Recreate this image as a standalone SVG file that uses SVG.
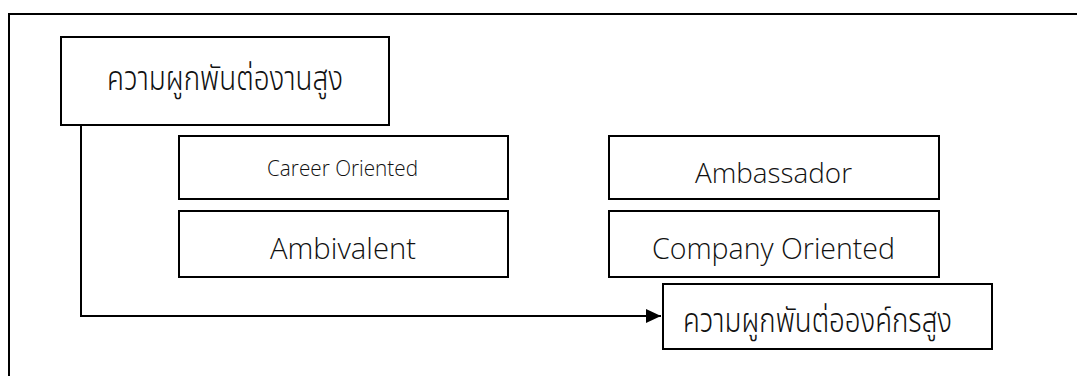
<svg xmlns="http://www.w3.org/2000/svg" width="1077" height="376" viewBox="0 0 1077 376">
<style>
.box{fill:#fff;stroke:#000;stroke-width:2}
.en{font-family:"Open Sans","Noto Sans","DejaVu Sans",sans-serif;font-weight:300;fill:#111}
.th{font-family:"Noto Sans Thai","Noto Sans","DejaVu Sans",sans-serif;font-weight:300;fill:#111}
.conn{fill:none;stroke:#000;stroke-width:2}
</style>
<defs>
<marker id="arr" markerUnits="userSpaceOnUse" markerWidth="16" markerHeight="16" refX="15" refY="8" orient="auto">
<path d="M0,1 L15,8 L0,15 Z" fill="#000"/>
</marker>
</defs>
<rect x="9" y="14" width="1080" height="380" fill="#fff" stroke="#000" stroke-width="2"/>
<g id="connectors">
<path class="conn" d="M81,125 V316 H661" marker-end="url(#arr)"/>
</g>
<g id="job-engagement">
<rect class="box" x="61" y="37" width="328" height="88"/>
<text class="th" x="107" y="90" font-size="33" textLength="236" lengthAdjust="spacingAndGlyphs">ความผูกพันต่องานสูง</text>
</g>
<g id="career-oriented">
<rect class="box" x="179" y="136" width="329" height="63"/>
<text class="en" x="267" y="176" font-size="22" textLength="151" lengthAdjust="spacingAndGlyphs">Career Oriented</text>
</g>
<g id="ambivalent">
<rect class="box" x="179" y="211" width="329" height="66"/>
<text class="en" x="270" y="259" font-size="29" textLength="146" lengthAdjust="spacingAndGlyphs">Ambivalent</text>
</g>
<g id="ambassador">
<rect class="box" x="609" y="136" width="330" height="63"/>
<text class="en" x="695" y="183" font-size="28" textLength="157" lengthAdjust="spacingAndGlyphs">Ambassador</text>
</g>
<g id="company-oriented">
<rect class="box" x="609" y="211" width="330" height="66"/>
<text class="en" x="652" y="259" font-size="29" textLength="243" lengthAdjust="spacingAndGlyphs">Company Oriented</text>
</g>
<g id="org-engagement">
<rect class="box" x="663" y="284" width="329" height="65"/>
<text class="th" x="683" y="332" font-size="33" textLength="269" lengthAdjust="spacingAndGlyphs">ความผูกพันต่อองค์กรสูง</text>
</g>
</svg>
